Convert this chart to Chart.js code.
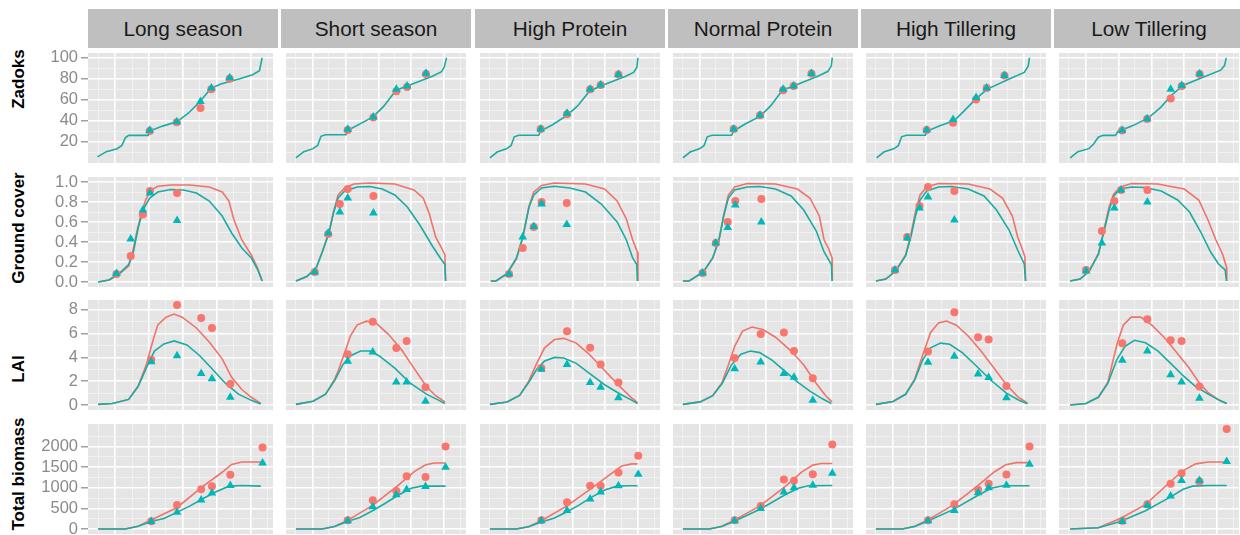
<!DOCTYPE html>
<html>
<head>
<meta charset="utf-8">
<script src="https://cdn.jsdelivr.net/npm/chart.js@4.4.1/dist/chart.umd.min.js"></script>
<style>
  body { margin: 0; background: #fff; font-family: "Liberation Sans", Arial, sans-serif; }
  #wrap { position: relative; width: 1240px; height: 535px; overflow: hidden; }
  .strip { position: absolute; top: 9px; height: 39px; line-height: 39px; background: #bfbfbf;
           color: #1a1a1a; font-size: 20.8px; text-align: center; white-space: nowrap; }
  .rowlab { position: absolute; font-weight: bold; font-size: 17px; color: #000; white-space: nowrap;
            transform: translate(-50%, -50%) rotate(-90deg); }
  canvas { position: absolute; }
</style>
</head>
<body>
<div id="wrap"></div>
<script>
// facets
const panelNames = ["Long season", "Short season", "High Protein", "Normal Protein", "High Tillering", "Low Tillering"];
const rowNames = ["Zadoks", "Ground cover", "LAI", "Total biomass"];

// axis breaks (x is days, no labels shown)
const xLimits = [10, 283];
const xBreaks = [25, 50, 75, 100, 125, 150, 175, 200, 225, 250, 275];
const xMajor = [50, 100, 150, 200, 250];
const yLimits = [[-0.5, 104.5], [-0.05, 1.05], [-0.42, 8.82], [-121, 2548]];
const yMajor = [[20, 40, 60, 80, 100], [0, 0.2, 0.4, 0.6, 0.8, 1.0], [0, 2, 4, 6, 8], [0, 500, 1000, 1500, 2000]];
const yMinor = [[10, 30, 50, 70, 90], [0.1, 0.3, 0.5, 0.7, 0.9], [1, 3, 5, 7], [250, 750, 1250, 1750, 2250]];
const yTickLabels = [["20", "40", "60", "80", "100"], ["0.0", "0.2", "0.4", "0.6", "0.8", "1.0"],
                     ["0", "2", "4", "6", "8"], ["0", "500", "1000", "1500", "2000"]];

// ---- Zadoks ----
const zadoksSim = [
  [[24,5.3],[37,10.3],[53,13.2],[60,16.2],[65,23.5],[70,25.9],[99,25.9],[101,30],[120,34.7],[141,38.8],[158,47],[175,57.9],[191,70.5],[206,74.9],[234,79.9],[253,83.7],[263,87.6],[267,100]],
  [[25,4.4],[37,10.3],[51,13.2],[58,16.2],[63,25],[70,26.4],[101,26.4],[104,30.8],[142,43.5],[158,53.5],[177,69],[194,72.9],[232,82.3],[246,86.7],[250,91.1],[253.5,100]],
  [[25,4.5],[36,10],[50,13],[57,16],[62,24.5],[69,26],[99,26],[102,30],[120,36],[142,45],[158,54],[176,68],[193,73],[230,82],[243,86],[248,91],[249.5,100]],
  [[25,4.5],[36,10],[50,13],[57,16],[62,24.5],[69,26],[99,26],[102,30],[120,37],[142,44],[158,54],[176,69],[193,73],[232,83],[245,87],[250,92],[251.6,100]],
  [[26,4.5],[37,10],[52,13],[59,16],[64,24.5],[71,26],[100,26],[103,30],[122,35],[144,40],[160,50],[177,61],[194,70],[228,80],[250,86],[256,92],[258,100]],
  [[27,4.4],[38.6,10.3],[55.3,13.2],[62.5,17.6],[69.6,24.1],[76.8,25.9],[95.7,25.9],[99.1,29.4],[122,35.2],[145.7,42.6],[164.7,52.9],[179,63.2],[198,73.5],[226.6,80.8],[255.2,88.1],[261,92.5],[263.7,99.9]]
];
const zadoksDays = [
  [101, 141, 176, 192, 219], [103.6, 142.4, 177.4, 193.6, 222.3], [102, 142, 177, 193, 220],
  [102, 142, 177, 193, 220], [102, 142, 177, 193, 220], [105.7, 143.7, 179.4, 196.2, 223.3]
];
const zadoksObsTeal = [
  [30.8, 38.8, 58.2, 71.1, 80.8], [31.7, 43.5, 70, 72.9, 85.2], [32, 47, 70, 74, 84],
  [32, 45, 70, 73, 85], [31, 41, 62, 71, 83], [30.8, 41.7, 70, 73.5, 84.6]
];
const zadoksObsRed = [
  [30, 38.5, 52, 70, 80], [31, 43, 68, 72, 84.5], [32, 46, 70, 74, 84],
  [32, 45, 69, 73, 85], [31, 38, 60, 71, 83], [30.5, 41.5, 61.1, 73, 84.5]
];

// ---- Ground cover ----
const gcSimTeal = [
  [[25,0],[41,0.02],[56,0.085],[70,0.175],[77,0.3],[84,0.54],[91,0.72],[101,0.84],[113,0.9],[132,0.925],[151,0.92],[170,0.89],[189,0.81],[208,0.66],[222,0.49],[237,0.34],[251,0.24],[260,0.13],[267,0.01]],
  [[25,0.01],[41.6,0.055],[56,0.145],[65,0.3],[75,0.49],[82,0.69],[89,0.84],[99,0.91],[118,0.95],[137,0.955],[156,0.93],[175,0.87],[194,0.75],[213,0.57],[232,0.36],[244,0.24],[251,0.175],[252,0.01]],
  [[26.3,0.01],[34.4,0.01],[51,0.085],[65.3,0.24],[74.8,0.45],[84.4,0.75],[91.6,0.87],[103.4,0.94],[122.4,0.957],[146.3,0.94],[170,0.9],[194,0.78],[218,0.6],[232,0.42],[241.6,0.24],[247.7,0.175],[248.7,0.01]],
  [[25,0.01],[34.5,0.01],[56,0.1],[70.2,0.24],[79.7,0.42],[86.9,0.66],[94,0.84],[103.5,0.92],[122.6,0.95],[141.6,0.955],[165.5,0.93],[189.2,0.86],[208.3,0.72],[227.3,0.51],[239.2,0.3],[250.2,0.175],[251.2,0.01]],
  [[25,0.01],[40,0.03],[55,0.11],[70,0.26],[78,0.45],[85,0.66],[92,0.82],[102,0.91],[120,0.95],[140,0.955],[165,0.93],[189,0.86],[208,0.72],[227,0.52],[240,0.32],[250,0.18],[252,0.01]],
  [[27,0.01],[42,0.03],[56,0.11],[70,0.28],[78,0.5],[86,0.72],[93,0.86],[103,0.93],[120,0.95],[140,0.945],[165,0.91],[190,0.82],[208,0.7],[225,0.5],[240,0.3],[252,0.18],[262,0.12],[264,0.01]]
];
const gcSimRed = [
  [[25,0],[41,0.02],[56,0.08],[70,0.16],[75,0.27],[82,0.5],[89,0.69],[95,0.82],[103,0.92],[113,0.957],[132,0.97],[160,0.97],[189,0.95],[208,0.9],[218,0.81],[225,0.63],[237,0.42],[251,0.27],[260,0.145],[267,0.01]],
  [[25,0.01],[41.6,0.055],[56,0.145],[65,0.3],[75,0.49],[82,0.7],[89,0.87],[99,0.94],[113,0.98],[137,0.99],[175,0.98],[204,0.92],[218,0.84],[227,0.69],[237,0.45],[246,0.34],[251,0.27],[252,0.01]],
  [[26.3,0.01],[34.4,0.01],[51,0.08],[65.3,0.23],[74.8,0.44],[84.4,0.76],[91.6,0.9],[103.4,0.965],[122.4,0.99],[170,0.98],[199,0.93],[218,0.81],[232,0.63],[241.6,0.42],[248.7,0.3],[249.6,0.01]],
  [[25,0.01],[34.5,0.01],[56,0.1],[70.2,0.24],[79.7,0.42],[86.9,0.67],[94,0.87],[103.5,0.95],[122.6,0.985],[165.5,0.98],[198.6,0.93],[217.6,0.84],[231.9,0.66],[239.2,0.42],[246.3,0.33],[251.2,0.24],[251.6,0.01]],
  [[25,0.01],[40,0.03],[55,0.11],[70,0.27],[78,0.47],[85,0.7],[92,0.87],[102,0.95],[120,0.985],[165,0.98],[198,0.93],[217,0.84],[232,0.66],[240,0.45],[247,0.33],[251,0.25],[252,0.01]],
  [[27,0.01],[42,0.03],[56,0.11],[70,0.29],[78,0.52],[86,0.75],[93,0.88],[103,0.95],[120,0.985],[160,0.98],[200,0.93],[222,0.82],[236,0.62],[248,0.42],[258,0.28],[264,0.15],[264.5,0.01]]
];
const gcDays = [
  [52, 73, 91, 101.5, 141.4], [53.6, 74, 91.6, 103.6, 142.6], [54, 74.8, 91.6, 103.4, 141.6],
  [54.8, 74.9, 93, 104.5, 144], [54, 72.5, 91, 104, 144], [51, 75, 94, 104, 144]
];
const gcObsTeal = [
  [0.085, 0.43, 0.72, 0.89, 0.615], [0.1, 0.49, 0.7, 0.84, 0.69], [0.08, 0.45, 0.555, 0.78, 0.575],
  [0.09, 0.39, 0.545, 0.77, 0.6], [0.12, 0.44, 0.74, 0.85, 0.62], [0.11, 0.39, 0.74, 0.92, 0.8]
];
const gcObsRed = [
  [0.08, 0.26, 0.675, 0.91, 0.89], [0.1, 0.48, 0.78, 0.93, 0.86], [0.08, 0.34, 0.55, 0.8, 0.79],
  [0.09, 0.39, 0.6, 0.81, 0.83], [0.12, 0.45, 0.76, 0.95, 0.91], [0.12, 0.51, 0.81, 0.92, 0.92]
];

// ---- LAI ----
const laiSimTeal = [
  [[25,0.05],[46,0.13],[70,0.47],[84,1.55],[96,3.1],[108,4.53],[122,5.13],[137,5.38],[156,5.05],[175,4.14],[194,2.98],[213,1.81],[232,0.91],[251,0.39],[265,0.08]],
  [[25,0.05],[51,0.31],[70,0.91],[84,2.07],[96,3.37],[108,4.14],[123,4.53],[137,4.53],[151,4.14],[175,3.1],[199,1.81],[223,0.91],[242,0.39],[251,0.13]],
  [[25,0.05],[51,0.25],[70,0.8],[84,1.9],[96,3.0],[108,3.7],[123,4.0],[137,3.95],[156,3.5],[175,2.7],[199,1.7],[223,0.9],[242,0.35],[249,0.12]],
  [[25,0.05],[51.2,0.26],[70.2,0.78],[84.5,1.81],[98.7,3.36],[113,4.27],[127.3,4.53],[141.6,4.4],[160.6,3.75],[179.6,2.85],[198.6,1.94],[217.6,1.17],[236.6,0.52],[250.2,0.13]],
  [[25,0.05],[51,0.3],[70,0.9],[84,2.1],[96,3.8],[108,4.8],[123,5.2],[137,5.1],[156,4.4],[175,3.4],[199,2.1],[223,1.0],[242,0.4],[255,0.1]],
  [[27,0],[50.7,0.13],[69.7,0.65],[84,1.81],[98.3,3.88],[110.2,4.92],[124.4,5.44],[141.2,5.23],[160.3,4.53],[179.3,3.5],[198.3,2.46],[217.3,1.55],[236.3,0.91],[253.3,0.39],[264.3,0.13]]
];
const laiSimRed = [
  [[25,0.05],[46,0.13],[70,0.47],[84,1.6],[96,3.37],[106,5.44],[113,6.73],[125,7.38],[137,7.64],[149,7.38],[170,6.47],[189,5.3],[208,3.88],[222,2.33],[237,1.3],[251,0.65],[265,0.13]],
  [[25,0.05],[51,0.31],[70,0.91],[84,2.2],[89,2.85],[99,4.4],[108,5.83],[118,6.73],[132,7.04],[147,6.86],[165,5.96],[185,4.66],[204,3.1],[223,1.55],[237,0.78],[251,0.26]],
  [[25,0.05],[51,0.25],[70,0.8],[84,2.0],[96,3.5],[108,4.8],[123,5.5],[137,5.6],[156,5.2],[175,4.3],[199,2.9],[223,1.5],[240,0.6],[249,0.2]],
  [[25,0.05],[51.2,0.26],[70.2,0.78],[84.5,1.9],[94,3.36],[103.5,4.92],[115.5,6.21],[129.7,6.55],[146.3,6.34],[165.5,5.69],[189.2,4.53],[208.3,3.36],[227.3,1.81],[241.6,0.78],[251.2,0.26]],
  [[25,0.05],[51,0.3],[70,0.9],[84,2.2],[96,4.2],[108,6.1],[120,6.9],[132,7.05],[147,6.7],[165,5.8],[185,4.5],[204,3.1],[223,1.7],[240,0.7],[255,0.15]],
  [[27,0],[50.7,0.13],[69.7,0.65],[84,1.9],[98.3,5.18],[107.7,6.73],[119.6,7.38],[133.9,7.38],[150.4,6.73],[169.4,5.69],[188.4,4.4],[207.4,3.1],[221.7,1.94],[236.3,1.03],[253.3,0.39],[264.3,0.13]]
];
const laiDays = [
  [103.3, 141.4, 177, 192.9, 220], [103.6, 141.6, 177.3, 193, 221.6], [103, 142, 177, 193, 220],
  [103.5, 143, 178.2, 193.5, 222], [104, 144, 180, 196, 223], [106, 144, 179.3, 195.9, 223]
];
const laiObsTeal = [
  [3.63, 4.14, 2.64, 2.2, 0.65], [3.67, 4.45, 1.94, 1.94, 0.31], [3.0, 3.4, 1.9, 1.5, 0.6],
  [3.05, 3.62, 2.64, 2.33, 0.39], [3.6, 4.1, 2.6, 2.3, 0.6], [3.75, 4.53, 2.54, 1.94, 0.57]
];
const laiObsRed = [
  [3.8, 8.41, 7.3, 6.47, 1.76], [4.27, 6.99, 4.79, 5.38, 1.5], [3.1, 6.2, 4.8, 3.4, 1.9],
  [3.94, 5.96, 6.08, 4.53, 2.25], [4.5, 7.8, 5.7, 5.5, 1.6], [5.18, 7.2, 5.44, 5.38, 1.55]
];

// ---- Total biomass ----
const bioSimTeal = [
  [[25,0],[65,0],[84,67],[103,180],[122,254],[141,404],[160,555],[180,742],[199,906],[218,1040],[237,1056],[265,1040]],
  [[25,0],[65,0],[84,60],[104,190],[122,280],[142,450],[160,620],[180,820],[200,990],[215,1040],[252,1040]],
  [[25,0],[65,0],[84,55],[103,170],[122,260],[142,420],[160,580],[180,780],[200,950],[218,1040],[235,1050],[249,1050]],
  [[25,0],[65,0],[84,60],[103,190],[142,480],[180,830],[200,990],[215,1050],[251.6,1055]],
  [[25,0],[65,0],[84,60],[103,190],[142,470],[180,820],[200,990],[218,1050],[258,1050]],
  [[27,0],[69.7,29],[102.9,180],[141.2,443],[179.3,780],[198.3,966],[212.6,1040],[236.3,1056],[264.3,1056]]
];
const bioSimRed = [
  [[25,0],[65,0],[84,67],[103,218],[141,517],[180,1040],[208,1377],[222,1566],[237,1625],[265,1625]],
  [[25,0],[65,0],[84,65],[104,215],[142,580],[180,1060],[205,1400],[222,1560],[235,1600],[252,1600]],
  [[25,0],[65,0],[84,60],[103,200],[142,560],[180,1000],[208,1330],[225,1530],[240,1580],[249,1580]],
  [[25,0],[65,0],[84,65],[103,215],[142,560],[180,1030],[205,1380],[222,1550],[235,1590],[251.6,1590]],
  [[25,0],[65,0],[84,65],[103,215],[142,580],[180,1060],[205,1390],[222,1560],[238,1610],[258,1610]],
  [[27,0],[69.7,29],[102.9,254],[141.2,591],[179.3,1153],[198.3,1416],[217.3,1580],[236.3,1625],[264.3,1625]]
];
const bioDays = [
  [103.3, 141.4, 177, 192.9, 220, 267.6], [103.6, 141.6, 177.3, 193, 221.6, 252], [103, 142, 177, 193, 220, 250],
  [103.5, 143, 178.2, 193.5, 222, 251.6], [104, 144, 180, 196, 223, 258], [106, 144, 179.3, 195.9, 223, 264.3]
];
const bioObsTeal = [
  [180, 404, 703, 876, 1056, 1602], [200, 540, 830, 960, 1030, 1500], [200, 450, 730, 900, 1050, 1330],
  [200, 500, 900, 1000, 1060, 1350], [200, 450, 880, 1000, 1060, 1570], [180, 577, 802, 1175, 1175, 1640]
];
const bioObsRed = [
  [190, 580, 966, 1040, 1319, 1977], [210, 700, 920, 1280, 1260, 2000], [210, 650, 1050, 1050, 1370, 1780],
  [210, 560, 1200, 1170, 1330, 2050], [210, 600, 950, 1100, 1320, 2000], [200, 600, 1101, 1355, 1150, 2427]
];

const simTeal = [zadoksSim, gcSimTeal, laiSimTeal, bioSimTeal];
const simRed = [null, gcSimRed, laiSimRed, bioSimRed];
const obsDays = [zadoksDays, gcDays, laiDays, bioDays];
const obsTeal = [zadoksObsTeal, gcObsTeal, laiObsTeal, bioObsTeal];
const obsRed = [zadoksObsRed, gcObsRed, laiObsRed, bioObsRed];

// layout
const panelLeft = [88, 281, 475, 668, 861, 1054];
const panelW = 190;
const rowTop = [48, 172, 295, 419];
const rowH = 120;
const rowLabelY = [79, 228, 369, 474];

const RED = "#f8766d", RED_LINE = "#f0736b";
const TEAL = "#00b8b8", TEAL_LINE = "#1aaba2";
const wrap = document.getElementById("wrap");

// grey panel background behind the grid
const panelBg = {
  id: "panelBg",
  beforeDraw(chart) {
    const { ctx, chartArea: a } = chart;
    ctx.save();
    ctx.fillStyle = "#e5e5e5";
    ctx.fillRect(a.left, a.top, a.right - a.left, a.bottom - a.top);
    ctx.restore();
  }
};

const near = (list, v) => list.some(m => Math.abs(m - v) < 1e-6);
const gridColor = majors => c => (c.tick && near(majors, c.tick.value)) ? "#ffffff" : "#f4f4f4";
const gridWidth = majors => c => (c.tick && near(majors, c.tick.value)) ? 1.6 : 0.8;

// pin the scale to exact limits and our own break list
const fixTicks = (lo, hi, breaks) => s => {
  s.min = lo;
  s.max = hi;
  s.ticks = breaks.map(v => ({ value: v }));
};

panelNames.forEach((name, p) => {
  const s = document.createElement("div");
  s.className = "strip";
  s.style.left = panelLeft[p] + "px";
  s.style.width = panelW + "px";
  s.textContent = name;
  wrap.appendChild(s);
});

rowNames.forEach((name, r) => {
  const d = document.createElement("div");
  d.className = "rowlab";
  d.style.left = "19px";
  d.style.top = rowLabelY[r] + "px";
  d.textContent = name;
  wrap.appendChild(d);
});

function pts(days, vals) {
  return days.map((d, i) => ({ x: d, y: vals[i] }));
}

function makePanel(r, p) {
  const first = p === 0;
  const axisW = first ? panelLeft[0] : 0;
  const canvas = document.createElement("canvas");
  canvas.width = panelW + axisW;
  canvas.height = rowH;
  canvas.style.left = (panelLeft[p] - axisW) + "px";
  canvas.style.top = rowTop[r] + "px";
  wrap.appendChild(canvas);

  const yBreaks = yMajor[r].concat(yMinor[r]).sort((a, b) => a - b);
  const datasets = [];
  if (simRed[r]) {
    datasets.push({ data: simRed[r][p].map(([x, y]) => ({ x, y })), showLine: true, pointRadius: 0,
                    borderColor: RED_LINE, borderWidth: 1.6, order: 4 });
  }
  datasets.push({ data: simTeal[r][p].map(([x, y]) => ({ x, y })), showLine: true, pointRadius: 0,
                  borderColor: TEAL_LINE, borderWidth: 1.6, order: 3 });
  datasets.push({ data: pts(obsDays[r][p], obsRed[r][p]), pointStyle: "circle", pointRadius: 4,
                  backgroundColor: RED, borderWidth: 0, order: 2 });
  datasets.push({ data: pts(obsDays[r][p], obsTeal[r][p]), pointStyle: "triangle", pointRadius: 5,
                  backgroundColor: TEAL, borderWidth: 0, order: 1 });

  new Chart(canvas.getContext("2d"), {
    type: "scatter",
    data: { datasets },
    options: {
      responsive: false,
      animation: false,
      events: [],
      layout: { padding: 0 },
      plugins: { legend: { display: false }, tooltip: { enabled: false } },
      scales: {
        x: {
          type: "linear", min: xLimits[0], max: xLimits[1], bounds: "data", grace: 0,
          afterBuildTicks: fixTicks(xLimits[0], xLimits[1], xBreaks),
          afterFit: s => { s.height = 0; s.paddingLeft = 0; s.paddingRight = 0; },
          ticks: { display: false },
          border: { display: false },
          grid: { color: gridColor(xMajor), lineWidth: gridWidth(xMajor), drawTicks: false }
        },
        y: {
          type: "linear", min: yLimits[r][0], max: yLimits[r][1], bounds: "data", grace: 0,
          afterBuildTicks: fixTicks(yLimits[r][0], yLimits[r][1], yBreaks),
          // keep the panel the full canvas height: no room reserved for end labels
          afterFit: s => { s.width = axisW; s.paddingTop = 0; s.paddingBottom = 0; },
          ticks: {
            display: first, autoSkip: false, padding: 3, color: "#8a8a8a",
            font: { family: "'Liberation Sans', Arial, sans-serif", size: 16.5 },
            callback: v => {
              const i = yMajor[r].findIndex(m => Math.abs(m - v) < 1e-6);
              return i >= 0 ? yTickLabels[r][i] : "";
            }
          },
          border: { display: false },
          grid: {
            color: gridColor(yMajor[r]), lineWidth: gridWidth(yMajor[r]),
            drawTicks: first, tickLength: 7, tickWidth: 1.2,
            tickColor: c => (c.tick && near(yMajor[r], c.tick.value)) ? "#8a8a8a" : "rgba(0,0,0,0)"
          }
        }
      }
    },
    plugins: [panelBg]
  });
}

for (let r = 0; r < rowNames.length; r++) {
  for (let p = 0; p < panelNames.length; p++) makePanel(r, p);
}
</script>
</body>
</html>
